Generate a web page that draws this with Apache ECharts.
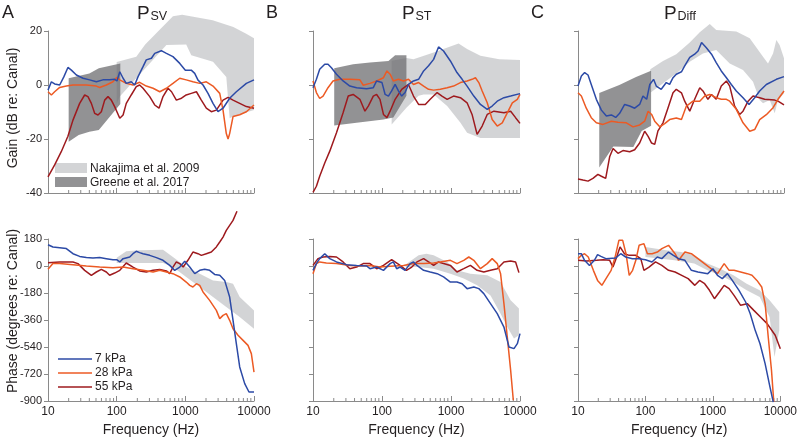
<!DOCTYPE html>
<html><head><meta charset="utf-8">
<script src="https://cdn.jsdelivr.net/npm/echarts@6/dist/echarts.min.js"></script>
<style>html,body{margin:0;padding:0;background:#fff}#c{width:800px;height:444px}</style>
</head><body><div id="c"></div>
<script>
// ---------- tick values ----------
const xMajorTicks = [10, 100, 1000, 10000];
const xMinorTicks = [20,30,40,50,60,70,80,90,200,300,400,500,600,700,800,900,2000,3000,4000,5000,6000,7000,8000,9000];
const gainTicks = [-40, -20, 0, 20];
const phaseTicks = [-900, -720, -540, -360, -180, 0, 180];
const legendLines = ['7 kPa', '28 kPa', '55 kPa'];
const legendBands = ['Nakajima et al. 2009', 'Greene et al. 2017'];

// ---------- Panel A: P_SV gain (dB) ----------
const gainSV7 = [[10,-1.9],[11.2,1.2],[12.5,0.4],[14.8,0],[17,3],[19.5,6.5],[21.9,5.5],[25.9,3.7],[32.4,2.5],[40.4,1.9],[50.6,1.2],[63,1.9],[79,1.9],[93.5,2.1],[101,1.5],[111,4.9],[124,2.5],[138,0.6],[163,1.2],[183,0],[205,3.1],[242,6.8],[270,9.3],[321,9.9],[358,11.7],[447,12.7],[530,11.7],[660,10.5],[830,8],[1000,5.5],[1220,5.5],[1370,4.3],[1530,1.8],[1810,0],[2140,-3.1],[2530,-6.8],[2990,-9.9],[3540,-8.6],[4420,-4.9],[5530,-2.5],[7740,0.6],[10000,1.9]];
const gainSV28 = [[10,-2.5],[11.2,-3.7],[12.5,-2.5],[14.8,-0.9],[18.5,-0.4],[23.1,0],[36.2,0],[50.6,-0.4],[56.6,-0.9],[70.7,0],[88.4,1.2],[100,2.8],[111,1.9],[138,0.6],[173,0],[216,1],[270,-0.4],[339,-1.2],[424,-2.5],[530,-1.2],[660,0.6],[830,2.5],[1030,1.9],[1290,1.2],[1620,0.6],[2020,1.2],[2530,-0.4],[3170,-3.1],[3540,-9.3],[3950,-18],[4190,-20],[4420,-18],[4950,-11.7],[6190,-11],[7740,-9.9],[10000,-7.4]];
const gainSV55 = [[10,-34],[12.5,-29.6],[15.6,-24.7],[19.5,-19],[23.1,-13],[28.9,-6.8],[34.2,-3.7],[38.2,-4.3],[42.8,-6.8],[47.8,-10.5],[53.5,-11.1],[59.8,-9.9],[66.9,-5.6],[74.8,-4.3],[83.6,-5.6],[93.5,-8],[111,-12.3],[124,-11.1],[138,-6.8],[163,-3.7],[193,-0.6],[216,0],[242,-1.2],[303,-4.3],[358,-7.4],[414,-8.6],[473,-4.3],[560,-1.2],[630,-2.5],[740,-5.6],[880,-4.9],[1030,-3.7],[1220,-3.1],[1450,-2.5],[1710,-5.6],[2020,-8.6],[2390,-9.9],[2830,-9.3],[3540,-5.6],[4190,-4.6],[4950,-5.6],[6190,-6.8],[7740,-8],[10000,-8.6]];
const nakGainSVUpper = [[100,8.5],[193,10.5],[260,15],[660,25.5],[900,26],[2500,24],[5000,21.5],[7700,19],[10000,17.3]];
const nakGainSVLower = [[100,-7],[111,-4.3],[530,14.8],[1030,15],[1220,11],[2530,8.6],[3950,3],[4420,-12.3],[4950,-11.7],[10000,-9.3]];
const greGainSVUpper = [[20,2.5],[40,4.3],[55,6.2],[113,8]];
const greGainSVLower = [[20,-21],[28,-18.5],[40,-17.3],[55,-16.7],[113,-7]];

// ---------- Panel A: P_SV phase (degrees) ----------
const phaseSV7 = [[10,142],[11.8,127],[14.8,122],[18.5,116],[23.1,82],[28.9,64],[36.2,56],[45.2,53],[56.6,56],[70.7,49],[88.4,42],[100,42],[111,27],[124,49],[155,60],[173,82],[193,98],[216,89],[242,82],[303,71],[379,56],[473,38],[593,4],[700,-29],[830,-7],[980,31],[1160,-7],[1370,-51],[1620,-29],[1910,-22],[2260,-29],[2670,-56],[3170,-62],[3740,-96],[4420,-207],[4950,-362],[5530,-518],[6190,-673],[7320,-784],[8450,-840],[10000,-840]];
const phaseSV28 = [[10,-22],[11.8,16],[14.8,16],[23.1,9],[36.2,0],[56.6,-7],[88.4,-11],[124,-7],[173,-18],[242,-29],[339,-40],[424,-29],[530,-40],[660,-51],[830,-73],[1030,-107],[1160,-129],[1290,-140],[1450,-118],[1620,-129],[1810,-173],[2260,-229],[2830,-296],[3170,-351],[3540,-329],[3950,-318],[4420,-362],[4950,-418],[5850,-462],[6930,-496],[8180,-529],[9150,-584],[10000,-707]];
const phaseSV55 = [[10,22],[14.8,27],[23.1,27],[27.3,16],[34.2,-29],[42.8,-62],[50.6,-40],[59.8,-22],[70.7,-40],[79,-62],[93.5,-47],[111,-29],[138,20],[173,-7],[216,-33],[270,-40],[339,-29],[424,-24],[530,-33],[593,-51],[660,-7],[740,27],[830,16],[930,-7],[1090,38],[1290,93],[1530,82],[1710,71],[2020,82],[2390,93],[2830,127],[3170,160],[3540,193],[3950,238],[4420,271],[4950,304],[5650,365]];
const nakPhaseSVUpper = [[100,55],[138,98],[216,105],[473,109],[660,60],[1030,-7],[1620,-51],[2530,-96],[3950,-107],[4950,-118],[6190,-207],[10000,-296]];
const nakPhaseSVLower = [[100,20],[473,20],[660,-7],[1030,-73],[1620,-140],[2530,-207],[3950,-273],[6190,-340],[10000,-418]];

// ---------- Panel B: P_ST gain ----------
const gainST7 = [[10,-1],[11.2,2.1],[12.5,5.8],[14.8,7.7],[16.5,7.7],[18.5,6.4],[21.9,4],[27.3,1.5],[34.2,-0.4],[42.8,-1],[59.8,-1.4],[74.8,-1],[83.6,1.5],[100,0.9],[111,-3.5],[124,-4.1],[138,-2.2],[155,0.2],[173,-2.2],[193,-4.1],[216,-2.8],[242,0.2],[286,1.5],[339,2.1],[401,5.2],[473,7.1],[560,9.5],[660,14.1],[780,12.6],[980,8.9],[1220,4.6],[1450,2.1],[1710,-0.4],[2140,-4.1],[2670,-7.2],[3350,-9],[3950,-7.8],[4680,-6],[5850,-4.7],[7320,-4.1],[10000,-3.2]];
const gainST28 = [[10,1.5],[11.2,-2.8],[12.5,-5],[14,-4.1],[16.5,-1],[19.5,1.5],[24.5,2.1],[34.2,2.1],[47.8,1.9],[53.5,-0.1],[66.9,0.6],[83.6,1.5],[105,2.7],[118,5.2],[131,4],[146,1.5],[173,2.1],[205,1.5],[242,2.1],[286,0.2],[339,0.9],[401,-0.4],[473,-1.6],[560,-1.9],[700,-1.6],[880,-1],[1090,-0.4],[1370,0.9],[1710,1.5],[2020,2.1],[2260,2.7],[2530,0.9],[2830,-2.2],[3350,-6.6],[3950,-12.8],[4680,-15.2],[5530,-14],[6540,-10.3],[7740,-6.6],[9150,-5.3],[10000,-3.5]];
const gainST55 = [[10,-39.8],[11.2,-37.5],[12.5,-33.8],[14.8,-28.9],[17.5,-24.5],[21.9,-17.7],[27.3,-10.3],[32.4,-4.1],[38.2,-3.5],[47.8,-5.3],[56.6,-9.7],[63.3,-7.8],[74.8,-4.1],[83.6,-3.5],[93.5,-5.3],[105,-10.9],[118,-12.1],[131,-9.7],[155,-5.3],[193,-1.6],[242,0.2],[286,-4.1],[339,-7.2],[424,-7.2],[500,-5.3],[630,-2.8],[740,-4.1],[880,-5.3],[1090,-4.1],[1370,-4.7],[1710,-6.6],[2020,-10.9],[2390,-18.3],[2830,-15.2],[3350,-10.9],[4190,-9.7],[5850,-10.3],[7320,-9.7],[8630,-12.1],[10000,-14.2]];
const nakGainSTUpper = [[138,9],[226,10],[286,9.5],[560,12],[1290,15.4],[1710,13.3],[2670,10.8],[5000,9.5],[10000,9.3]];
const nakGainSTLower = [[138,-14.6],[226,-8.4],[339,-4],[401,-3.5],[560,-3.5],[880,-7.8],[1370,-14],[1710,-17.7],[2670,-19.6],[10000,-19.6]];
const greGainSTUpper = [[20.3,6.2],[38.2,7.7],[66.9,8.3],[124,8.9],[155,11],[226,11]];
const greGainSTLower = [[20.3,-15],[42.8,-14],[105,-12.8],[146,-12],[226,-4]];

// ---------- Panel B: P_ST phase ----------
const phaseST7 = [[10,-29],[11.2,16],[12.5,49],[14.8,82],[17.5,49],[21.9,27],[30.6,9],[42.8,4],[59.8,0],[66.9,-18],[83.6,-7],[105,-29],[131,16],[146,27],[163,-18],[183,-7],[216,-29],[256,16],[286,27],[321,4],[401,-29],[500,-40],[630,-51],[780,-73],[980,-107],[1220,-107],[1450,-118],[1710,-151],[2140,-140],[2530,-151],[2990,-184],[3740,-251],[4680,-318],[5850,-407],[6930,-540],[8180,-551],[9150,-518],[10000,-451]];
const phaseST28 = [[10,-51],[11.2,16],[12.5,27],[15.6,20],[21.9,16],[34.2,4],[47.8,0],[66.9,4],[93.5,-7],[131,-2],[205,4],[286,16],[401,16],[560,20],[700,27],[980,38],[1220,16],[1530,38],[1810,60],[2140,38],[2670,-18],[3350,16],[3950,49],[4680,16],[5230,-51],[5850,-251],[6540,-473],[7320,-696],[8000,-895]];
const phaseST55 = [[10,4],[11.8,49],[14,60],[17.5,64],[21.9,60],[27.3,27],[34.2,-18],[42.8,-7],[53.5,16],[66.9,16],[83.6,-18],[105,4],[138,42],[183,4],[226,-29],[270,-7],[321,27],[401,49],[473,27],[560,4],[660,27],[780,16],[980,4],[1220,-40],[1530,-18],[1910,4],[2390,-29],[2990,-40],[3740,-29],[4680,-18],[5850,27],[7320,33],[8630,27],[9650,-44]];
const nakPhaseSTUpper = [[220,10],[339,71],[440,82],[560,71],[880,27],[1220,-29],[1910,-51],[3350,-62],[5230,-107],[7320,-229],[9650,-284]];
const nakPhaseSTLower = [[220,-7],[339,-7],[560,-18],[980,-51],[1530,-84],[2390,-129],[3740,-196],[5230,-318],[6540,-407],[8180,-484],[9650,-462]];

// ---------- Panel C: P_Diff gain ----------
const gainDiff7 = [[10,-0.4],[11.2,3.3],[12.5,4.6],[14,3.7],[15.6,0.2],[18.5,-5.3],[21.9,-9.3],[25.9,-11.5],[30.6,-11.1],[35.4,-12],[40.4,-10.5],[47.8,-7.2],[56.6,-7.8],[66.9,-8.6],[79,-7.2],[88.4,-4.1],[100,-5.3],[111,0.2],[126,2.1],[138,-0.4],[163,-1.6],[193,0.9],[216,0.2],[242,2.7],[270,4],[321,4.9],[358,7.1],[424,10.2],[500,11.4],[560,12.6],[630,15.7],[740,13.8],[880,11.4],[1030,8.3],[1220,5.2],[1450,2.7],[1710,0.2],[2020,-2.2],[2530,-4.7],[3100,-7.2],[3740,-4.7],[4420,-2.2],[5530,0.2],[7740,2.1],[10000,3.1]];
const gainDiff28 = [[10,-2.9],[11.2,-4.1],[13.2,-8.6],[15.6,-12.1],[18.5,-14],[23.1,-14.6],[30.6,-13.4],[38.2,-13.8],[50.6,-14],[63.3,-15.5],[79,-14.8],[93.5,-13.4],[105,-9.7],[118,-10.9],[131,-13.4],[155,-15.5],[183,-14.3],[216,-12.8],[270,-12.2],[321,-12.8],[379,-7.8],[473,-6],[593,-6],[700,-4.1],[830,-3.5],[1030,-4.7],[1220,-5.3],[1450,-5.3],[1620,-6],[2020,-9],[2530,-14],[3170,-17.1],[3740,-16.5],[4420,-12.8],[5530,-11],[6930,-8.4],[8180,-5.3],[10000,-2.2]];
const gainDiff55 = [[10,-34.8],[11.8,-35.2],[14,-35.6],[16.5,-34.6],[19.5,-33.1],[21.9,-33.8],[25.3,-34.6],[28.9,-26.6],[32.4,-23.5],[38.2,-25.3],[45.2,-24.3],[56.6,-24.7],[66.9,-24],[79,-21.5],[93.5,-17.1],[105,-19],[118,-21.5],[131,-22],[146,-17],[173,-14],[205,-8.4],[242,-2.9],[270,-1.6],[321,-2.9],[358,-6],[424,-9.7],[500,-5.3],[593,-1],[660,-2.2],[780,-5.3],[880,-3.5],[1030,-5.3],[1220,-0.4],[1450,1.5],[1620,-0.4],[1910,-7.8],[2260,-10.9],[2530,-9.7],[3000,-6],[3540,-4.1],[4420,-4.7],[5230,-5.3],[7320,-5.6],[8180,-6],[10000,-7.4]];
const nakGainDiffUpper = [[113,5.8],[173,8.9],[270,11.4],[424,15.7],[593,19.5],[830,22.6],[1030,20.4],[2020,19.8],[3170,17.3],[4950,10.5],[5850,8],[6930,11.7],[7740,16.7],[8630,14.8],[10000,9.9]];
const nakGainDiffLower = [[113,-2.9],[270,4.3],[424,8.6],[660,11.7],[1030,13],[1620,8],[2530,5.6],[3540,1.2],[4420,-5.6],[4950,-6.8],[6190,-5.6],[7320,-10.5],[8180,-5.6],[10000,-3.1]];
const greGainDiffUpper = [[20.4,-3],[40,0],[70,3],[116,5.3]];
const greGainDiffLower = [[20.4,-30.6],[32.7,-22.8],[64,-23],[84.5,-17],[116,-15.1]];

// ---------- Panel C: P_Diff phase ----------
const phaseDiff7 = [[10,82],[11.2,82],[12.5,38],[14.8,4],[17.5,38],[19.5,76],[21.9,64],[25.9,49],[36.2,53],[43,82],[51,60],[64,49],[80,49],[100,42],[125,27],[150,60],[175,49],[220,93],[260,71],[310,49],[385,38],[480,-29],[600,-40],[840,-51],[1000,-18],[1170,-62],[1380,-84],[1640,-51],[1940,-96],[2440,-162],[3060,-240],[3580,-318],[4240,-429],[5000,-518],[5950,-651],[7030,-807],[7860,-907]];
const phaseDiff28 = [[10,49],[11.2,71],[12.5,82],[14.2,60],[16.9,-29],[19.5,-96],[22.6,-129],[26,-84],[31,-29],[36,71],[40.4,171],[46,171],[51.5,82],[57.5,-62],[64.5,-29],[72,38],[80.5,138],[95,149],[107,82],[126,82],[150,93],[175,116],[220,138],[275,82],[310,38],[385,93],[480,82],[600,49],[750,16],[940,-18],[1170,-51],[1470,16],[1740,-29],[2060,-29],[2580,-40],[3230,-51],[3800,-62],[4500,-96],[5300,-140],[5950,-251],[6620,-473],[7400,-696],[8000,-907]];
const phaseDiff55 = [[10,38],[13.5,33],[18.9,38],[23.6,42],[29.5,38],[33,-7],[37.5,60],[42,127],[48.7,82],[57.5,71],[72,71],[85.2,49],[95,-29],[113,-7],[141,27],[175,4],[220,-29],[275,-40],[345,-62],[430,-84],[540,-129],[635,-96],[755,-118],[890,-162],[1055,-218],[1250,-173],[1470,-129],[1740,-151],[2060,-196],[2580,-262],[3230,-251],[4050,-296],[5080,-340],[6370,-384],[8400,-462],[10000,-551]];
const nakPhaseDiffUpper = [[100,127],[138,116],[216,104],[339,93],[530,71],[830,16],[1290,-18],[2020,-62],[3170,-118],[4950,-162],[6930,-229],[9650,-307]];
const nakPhaseDiffLower = [[100,60],[173,49],[270,38],[530,16],[830,-29],[1290,-62],[2020,-107],[3170,-162],[4950,-207],[6930,-340],[8200,-607],[9650,-429]];

// ---------- styling ----------
const FONT = '"Liberation Sans", Arial, sans-serif';
const AXIS = '#8a8a8a';
const TXT = '#231f20';
const COLORS = ['#2c4aa6', '#ec5a24', '#9e1a1e'];
const LIGHT = 'rgba(190,191,194,0.68)';
const DARK = 'rgba(110,110,112,0.75)';

const grids = [
  {left:48, top:31, width:206, height:162},
  {left:313, top:31, width:207, height:162},
  {left:578, top:31, width:206, height:162},
  {left:48, top:239, width:206, height:162},
  {left:313, top:239, width:207, height:162},
  {left:578, top:239, width:206, height:162}
];

const panels = [
  {lines:[gainSV7, gainSV28, gainSV55], bands:[[nakGainSVUpper, nakGainSVLower, LIGHT],[greGainSVUpper, greGainSVLower, DARK]]},
  {lines:[gainST7, gainST28, gainST55], bands:[[nakGainSTUpper, nakGainSTLower, LIGHT],[greGainSTUpper, greGainSTLower, DARK]]},
  {lines:[gainDiff7, gainDiff28, gainDiff55], bands:[[nakGainDiffUpper, nakGainDiffLower, LIGHT],[greGainDiffUpper, greGainDiffLower, DARK]]},
  {lines:[phaseSV7, phaseSV28, phaseSV55], bands:[[nakPhaseSVUpper, nakPhaseSVLower, LIGHT]]},
  {lines:[phaseST7, phaseST28, phaseST55], bands:[[nakPhaseSTUpper, nakPhaseSTLower, LIGHT]]},
  {lines:[phaseDiff7, phaseDiff28, phaseDiff55], bands:[[nakPhaseDiffUpper, nakPhaseDiffLower, LIGHT]]}
];

const xAxis = [], yAxis = [], series = [];
grids.forEach((g, i) => {
  const bottom = i >= 3;
  const firstCol = i % 3 === 0;
  const ticks = bottom ? phaseTicks : gainTicks;
  xAxis.push({
    type:'log', logBase:10, gridIndex:i, min:xMajorTicks[0], max:xMajorTicks[xMajorTicks.length-1],
    axisLine:{onZero:false, lineStyle:{color:AXIS, width:1}},
    axisTick:{show:true, inside:true, length:5, lineStyle:{color:AXIS}},
    axisLabel:{show:bottom, fontSize:12, color:TXT, fontFamily:FONT, margin:5,
      formatter:v => String(Math.round(v))},
    splitLine:{show:false},
    name: bottom ? 'Frequency (Hz)' : '', nameLocation:'middle', nameGap:22,
    nameTextStyle:{fontSize:14, color:TXT, fontFamily:FONT}
  });
  yAxis.push({
    type:'value', gridIndex:i, min:ticks[0], max:ticks[ticks.length-1], interval:ticks[1]-ticks[0],
    axisLine:{show:true, onZero:false, lineStyle:{color:AXIS, width:1}},
    axisTick:{show:true, length:4, lineStyle:{color:AXIS}},
    axisLabel:{show:firstCol, fontSize:11, color:TXT, fontFamily:FONT, margin:6},
    splitLine:{show:false}
  });
  const p = panels[i];
  p.bands.forEach(([up, lo, col]) => {
    series.push({
      type:'custom', xAxisIndex:i, yAxisIndex:i, silent:true, z:1, clip:false,
      data:[up[0]],
      renderItem:(params, api) => {
        const pts = up.concat(lo.slice().reverse()).map(d => api.coord(d));
        return {type:'polygon', shape:{points:pts}, style:{fill:col}};
      }
    });
  });
  // minor ticks on x axis
  series.push({
    type:'custom', xAxisIndex:i, yAxisIndex:i, silent:true, z:2, clip:false,
    data: xMinorTicks.map(f => [f, ticks[0]]),
    renderItem:(params, api) => {
      const c = api.coord([api.value(0), api.value(1)]);
      return {type:'line', shape:{x1:c[0], y1:c[1], x2:c[0], y2:c[1]-3}, style:{stroke:AXIS, lineWidth:1}};
    }
  });
  p.lines.forEach((d, k) => {
    series.push({
      type:'line', xAxisIndex:i, yAxisIndex:i, data:d, showSymbol:false, symbol:'none',
      clip:false, silent:true, z:3 + (2-k), animation:false,
      lineStyle:{color:COLORS[k], width:1.5}
    });
  });
});

const graphic = [];
function txt(x, y, text, size) {
  graphic.push({type:'text', x:x, y:y, silent:true,
    style:{text:text, fontSize:size, fontFamily:FONT, fill:TXT, align:'left', verticalAlign:'middle'}});
}
// panel letters
txt(2, 13.5, 'A', 18); txt(266, 13.5, 'B', 18); txt(531, 13.5, 'C', 18);
// titles with subscripts
txt(137, 14, 'P', 19); txt(150.5, 17, 'SV', 12.5);
txt(402, 14, 'P', 19); txt(415.5, 17, 'ST', 12.5);
txt(664, 14, 'P', 19); txt(677.5, 17, 'Diff', 12.5);
// y axis names
graphic.push({type:'text', x:13, y:108, rotation:Math.PI/2, silent:true,
  style:{text:'Gain (dB re: Canal)', fontSize:14, fontFamily:FONT, fill:TXT, align:'center', verticalAlign:'middle'}});
graphic.push({type:'text', x:13, y:311, rotation:Math.PI/2, silent:true,
  style:{text:'Phase (degrees re: Canal)', fontSize:14, fontFamily:FONT, fill:TXT, align:'center', verticalAlign:'middle'}});
// band legend
graphic.push({type:'rect', shape:{x:55, y:163, width:32, height:10}, style:{fill:LIGHT}, silent:true});
graphic.push({type:'rect', shape:{x:55, y:177, width:32, height:10}, style:{fill:DARK}, silent:true});
txt(90, 168.5, legendBands[0], 12);
txt(90, 182.5, legendBands[1], 12);
// line legend
[359, 373, 387].forEach((y, k) => {
  graphic.push({type:'line', shape:{x1:58, y1:y, x2:92, y2:y}, style:{stroke:COLORS[k], lineWidth:1.5}, silent:true});
  txt(95, y, legendLines[k], 12);
});

const chart = echarts.init(document.getElementById('c'), null, {renderer:'canvas'});
chart.setOption({
  animation:false,
  backgroundColor:'#fff',
  grid:grids.map(g => Object.assign({containLabel:false}, g)),
  xAxis:xAxis, yAxis:yAxis, series:series, graphic:graphic
});
</script></body></html>
